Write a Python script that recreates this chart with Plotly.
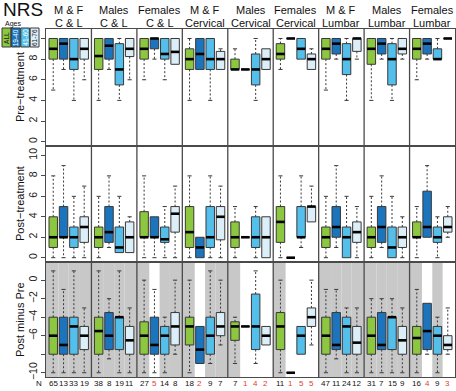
import plotly.graph_objects as go
from plotly.subplots import make_subplots

# ---------------- data ----------------
panel_top = ["M & F", "Males", "Females", "M & F", "Males", "Females", "M & F", "Males", "Females"]
panel_bottom = ["C & L", "C & L", "C & L", "Cervical", "Cervical", "Cervical", "Lumbar", "Lumbar", "Lumbar"]
age_groups = ["ALL", "19-40", "41-60", "61-76"]
row_titles = ["Pre\u2212treatment", "Post\u2212treatment", "Post minus Pre"]

n_counts = [65, 13, 33, 19, 38, 8, 19, 11, 27, 5, 14, 8, 18, 2, 9, 7, 7, 1, 4, 2,
            11, 1, 5, 5, 47, 11, 24, 12, 31, 7, 15, 9, 16, 4, 9, 3]

# [lower whisker, q1, median, q3, upper whisker]; panel by panel, age groups in order
pre_stats = [
    [5, 8, 9, 10, 10], [7, 8, 9.5, 10, 10], [4, 7, 8, 10, 10], [6, 8, 9, 10, 10],
    [4, 7, 8.3, 10, 10], [7, 8, 9.3, 10, 10], [4, 5.5, 7, 9.5, 10], [6, 8.25, 9, 10, 10],
    [6, 8, 9, 10, 10], [8, 9, 10, 10, 10], [6, 8, 8.5, 10, 10], [7.5, 7.5, 8.7, 10, 10],
    [4, 7, 8, 9, 10], [7, 7, 8.5, 10, 10], [4, 7, 8, 10, 10], [7, 7, 8, 8.75, 9],
    [7, 7, 7, 8, 9], [7, 7, 7, 7, 7], [4, 5.5, 7, 8.5, 10], [7, 7, 8, 9, 9],
    [7, 8, 8.5, 9.5, 10], [10, 10, 10, 10, 10], [8, 8, 9, 10, 10], [7, 7, 8, 8.5, 9],
    [5, 8, 9, 10, 10], [8, 8.5, 9.5, 10, 10], [4, 6.5, 8, 9.5, 10], [8, 8.75, 10, 10, 10],
    [4, 7.5, 9, 10, 10], [8, 8.5, 9.5, 10, 10], [4, 5.5, 8, 9.5, 10], [8, 8.5, 9, 10, 10],
    [6, 8, 9, 10, 10], [8, 8.5, 9.5, 10, 10], [8, 8, 8, 9, 10], [10, 10, 10, 10, 10],
]
post_stats = [
    [0, 1, 2, 4, 8], [0, 2, 2, 5, 9], [0, 1, 2, 3, 6], [0, 1.5, 3, 4, 7],
    [0, 1, 2, 3, 6], [1, 1.5, 2.5, 5, 8], [0.5, 0.5, 1, 3, 6], [0.5, 0.5, 2, 3.5, 4],
    [0, 2, 2, 4.5, 8], [0, 2, 2, 4, 4], [0, 1.5, 1.8, 3, 5], [0, 2.5, 4.3, 5, 7],
    [0, 1, 2.5, 5, 8], [0, 0, 1, 2, 2], [0, 1, 2, 5, 8], [0, 1.75, 4, 5, 7],
    [0, 1, 2, 3.5, 5], [2, 2, 2, 2, 2], [0, 1, 2, 4, 5], [0, 0, 2, 4, 4],
    [0, 1.5, 3.5, 5, 8], [0, 0, 0, 0, 0], [1, 2, 2, 5, 8], [3.5, 3.5, 5, 5, 7],
    [0, 1, 2, 3, 6], [1, 2, 3, 5, 9], [0, 0, 2, 3, 6], [0, 1.5, 2.5, 3.5, 5],
    [0, 1, 2, 3, 6], [1, 1.5, 3, 5, 8], [0, 0, 1, 3, 6], [0, 1, 2, 3, 4],
    [0, 2, 2, 3.5, 5], [2, 2, 3, 6.5, 9], [0, 1.5, 2, 3, 4], [2, 2.5, 3, 4, 5],
]
diff_stats = [
    [-10, -8, -6, -4, 1], [-10, -8, -7, -4, -1], [-10, -8, -5, -4, 1], [-10, -7.5, -6, -5, -3],
    [-10, -8, -5.5, -4, 1], [-8.5, -7.5, -6, -3.5, -2], [-10, -7.5, -4, -4, 1], [-10, -8, -6.5, -5, -3],
    [-10, -8, -6, -4.5, 0], [-10, -8, -7, -4, -1], [-10, -8, -6, -5, -4], [-8, -7, -5, -3.5, 0],
    [-10, -7, -5, -4, 0], [-9, -9, -7.5, -5, -5], [-9, -8, -6, -4, 1], [-7, -6, -5, -3.5, 0],
    [-9, -6.5, -5, -4.5, -4], [-5, -5, -5, -5, -5], [-9, -7.5, -5, -1.5, 1], [-7, -7, -6, -5, -5],
    [-10, -7.5, -5, -3.5, 0], [-10, -10, -10, -10, -10], [-8, -8, -6, -5, -5], [-7, -5, -4, -3, 0],
    [-10, -8, -6, -4, -1], [-8.5, -7.5, -7, -3.5, -1], [-10, -8, -5, -4, -3], [-10, -8, -6.75, -5, -3],
    [-10, -8, -6, -4, -2], [-10, -7.5, -7, -3.5, -2], [-10, -7.5, -4, -4, -2], [-10, -8, -6.5, -5, -3],
    [-10, -8, -6.25, -5, -1], [-8, -7.5, -5.5, -2.5, -2.5], [-10, -8, -6, -5, -4], [-8, -7.5, -7, -6, -3],
]

# ---------------- style ----------------
colors = ["#8DC63F", "#1C75BC", "#55BFEC", "#DCEEF8"]
legend_text_colors = ["#1a1a1a", "#ffffff", "#ffffff", "#1a1a1a"]
frame_col = "#4a4a4a"
edge_col = "#383838"
gray_band = "#c8c8c8"
FONT = "Liberation Sans, Arial, sans-serif"

W, H = 456, 391
ML, MR, MT, MB = 46, 1, 29, 14
PW, PH = W - ML - MR, H - MT - MB

PANEL_W = 4.4
BOX_W = 0.82
CAP_W = 0.4
n_panels = len(panel_top)
n_groups = len(age_groups)

xpos = [PANEL_W * p + 0.7 + k for p in range(n_panels) for k in range(n_groups)]

fig = make_subplots(rows=3, cols=1, shared_xaxes=True, vertical_spacing=0,
                    row_heights=[117, 116, 115])

all_stats = [pre_stats, post_stats, diff_stats]
for r, stats in enumerate(all_stats, start=1):
    # boxes
    for k in range(n_groups):
        idx = [p * n_groups + k for p in range(n_panels)]
        fig.add_trace(go.Bar(
            x=[xpos[i] for i in idx],
            base=[stats[i][1] for i in idx],
            y=[stats[i][3] - stats[i][1] for i in idx],
            width=BOX_W,
            marker=dict(color=colors[k], line=dict(color=edge_col, width=1)),
            showlegend=False, hoverinfo="skip"), row=r, col=1)
    # whiskers (dashed) and caps
    wx, wy, cx, cy, mx, my = [], [], [], [], [], []
    for i, s in enumerate(stats):
        lo, q1, med, q3, hi = s
        x = xpos[i]
        if hi > q3:
            wx += [x, x, None]; wy += [q3, hi, None]
            cx += [x - CAP_W / 2, x + CAP_W / 2, None]; cy += [hi, hi, None]
        if lo < q1:
            wx += [x, x, None]; wy += [q1, lo, None]
            cx += [x - CAP_W / 2, x + CAP_W / 2, None]; cy += [lo, lo, None]
        mx += [x - BOX_W / 2, x + BOX_W / 2, None]; my += [med, med, None]
    fig.add_trace(go.Scatter(x=wx, y=wy, mode="lines",
                             line=dict(color=edge_col, width=1, dash="2px,2px"),
                             showlegend=False, hoverinfo="skip"), row=r, col=1)
    fig.add_trace(go.Scatter(x=cx, y=cy, mode="lines",
                             line=dict(color=edge_col, width=1),
                             showlegend=False, hoverinfo="skip"), row=r, col=1)
    fig.add_trace(go.Scatter(x=mx, y=my, mode="lines",
                             line=dict(color="#000000", width=2.6),
                             showlegend=False, hoverinfo="skip"), row=r, col=1)

# axes
xr = [0, PANEL_W * n_panels]
for r in range(1, 4):
    fig.update_xaxes(range=xr, showticklabels=False, ticks="", showgrid=False,
                     zeroline=False, showline=True, mirror=True,
                     linecolor=frame_col, linewidth=1.3, row=r, col=1)

yax_common = dict(showgrid=False, zeroline=False, showline=True, mirror=True,
                  linecolor=frame_col, linewidth=1.3, ticks="outside", ticklen=4,
                  tickcolor=frame_col, tickangle=-90,
                  tickfont=dict(family=FONT, size=10.5, color="#222"))
fig.update_yaxes(range=[-0.42, 10.92], tickvals=[0, 2, 4, 6, 8, 10],
                 ticktext=["0", "2", "4", "6", "8", ""], row=1, col=1, **yax_common)
fig.update_yaxes(range=[-0.42, 10.92], tickvals=[0, 2, 4, 6, 8, 10],
                 ticktext=["0", "2", "4", "6", "8", "10"], row=2, col=1, **yax_common)
fig.update_yaxes(range=[-10.46, 1.96], tickvals=[-10, -8, -6, -4, -2, 0],
                 ticktext=["\u221210", "", "\u22126", "\u22124", "\u22122", "0"],
                 row=3, col=1, **yax_common)

shapes = []
# gray bands in difference row for groups with N >= 6
for i, n in enumerate(n_counts):
    p, k = divmod(i, n_groups)
    left = PANEL_W * p if k == 0 else (xpos[i - 1] + xpos[i]) / 2
    right = PANEL_W * (p + 1) if k == n_groups - 1 else (xpos[i] + xpos[i + 1]) / 2
    if n >= 6:
        shapes.append(dict(type="rect", xref="x3", yref="y3 domain", x0=left, x1=right,
                           y0=0, y1=1, fillcolor=gray_band, line=dict(width=0),
                           layer="below"))
# panel dividers
for p in range(1, n_panels):
    shapes.append(dict(type="line", xref="x", yref="paper", x0=PANEL_W * p, x1=PANEL_W * p,
                       y0=0, y1=1, line=dict(color=frame_col, width=1.3)))


def px_x(v):
    return (v - ML) / PW


def px_y(v):
    return (H - MB - v) / PH


annotations = []
# panel headers
for p in range(n_panels):
    cx = PANEL_W * p + PANEL_W / 2
    annotations.append(dict(x=cx, xref="x", y=px_y(10), yref="paper", text=panel_top[p],
                            showarrow=False, font=dict(family=FONT, size=11, color="#111"),
                            xanchor="center", yanchor="middle"))
    annotations.append(dict(x=cx, xref="x", y=px_y(23), yref="paper", text=panel_bottom[p],
                            showarrow=False, font=dict(family=FONT, size=11, color="#111"),
                            xanchor="center", yanchor="middle"))
# row titles
for r, (t, yc) in enumerate(zip(row_titles, [87, 204, 320])):
    annotations.append(dict(x=px_x(20), xref="paper", y=px_y(yc), yref="paper", text=t,
                            textangle=-90, showarrow=False,
                            font=dict(family=FONT, size=11, color="#111"),
                            xanchor="center", yanchor="middle"))
# N labels
annotations.append(dict(x=px_x(39), xref="paper", y=px_y(383.5), yref="paper", text="N",
                        showarrow=False, font=dict(family=FONT, size=8, color="#111"),
                        xanchor="center", yanchor="middle"))
for i, n in enumerate(n_counts):
    annotations.append(dict(x=xpos[i], xref="x", y=px_y(383.5), yref="paper", text=str(n),
                            showarrow=False,
                            font=dict(family=FONT, size=8,
                                      color="#e0402a" if n <= 5 else "#111"),
                            xanchor="center", yanchor="middle"))
# title and legend
annotations.append(dict(x=px_x(1), xref="paper", y=px_y(9.5), yref="paper", text="NRS",
                        showarrow=False, font=dict(family=FONT, size=19, color="#111"),
                        xanchor="left", yanchor="middle"))
annotations.append(dict(x=px_x(3), xref="paper", y=px_y(24), yref="paper", text="Ages",
                        showarrow=False, font=dict(family=FONT, size=7, color="#111"),
                        xanchor="left", yanchor="middle"))
for k in range(n_groups):
    x0 = 2 + k * 9.4
    x1 = x0 + 8.8
    shapes.append(dict(type="rect", xref="paper", yref="paper", x0=px_x(x0), x1=px_x(x1),
                       y0=px_y(47), y1=px_y(28), fillcolor=colors[k],
                       line=dict(color=edge_col, width=1)))
    annotations.append(dict(x=px_x((x0 + x1) / 2), xref="paper", y=px_y(37.5), yref="paper",
                            text=age_groups[k], textangle=-90, showarrow=False,
                            font=dict(family=FONT, size=6.5, color=legend_text_colors[k]),
                            xanchor="center", yanchor="middle"))

fig.update_layout(width=W, height=H, margin=dict(l=ML, r=MR, t=MT, b=MB),
                  paper_bgcolor="white", plot_bgcolor="white", barmode="overlay",
                  showlegend=False, shapes=shapes, annotations=annotations,
                  font=dict(family=FONT))

fig.write_html("out.html", config={"displayModeBar": False},
               post_script="document.body.style.margin='0px';document.body.style.padding='0px';")
